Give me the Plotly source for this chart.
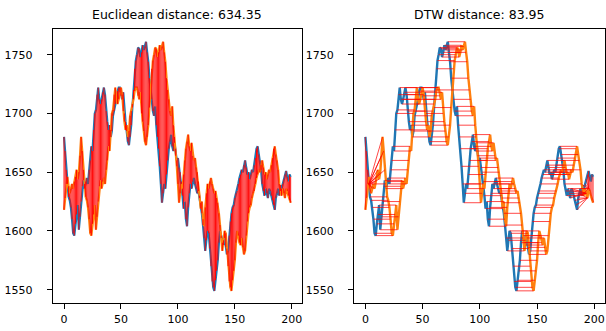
import numpy as np
import plotly.graph_objects as go

series_a = [1680, 1668, 1652, 1640, 1629, 1626, 1620, 1610, 1598, 1596,
            1606, 1614, 1622, 1601, 1612, 1625, 1638, 1643, 1636, 1642,
            1645, 1640, 1652, 1660, 1672, 1668, 1686, 1700, 1703, 1716,
            1722, 1712, 1708, 1712, 1718, 1722, 1716, 1702, 1693, 1686,
            1690, 1680, 1685, 1698, 1702, 1708, 1712, 1719, 1722, 1722,
            1715, 1712, 1718, 1700, 1693, 1685, 1676, 1673, 1680, 1690,
            1705, 1720, 1738, 1745, 1750, 1756, 1755, 1748, 1752, 1758,
            1754, 1757, 1761, 1752, 1744, 1730, 1720, 1712, 1702, 1698,
            1706, 1690, 1680, 1670, 1655, 1640, 1624, 1632, 1640, 1636,
            1648, 1660, 1670, 1676, 1682, 1672, 1668, 1675, 1664, 1660,
            1662, 1654, 1650, 1642, 1630, 1619, 1625, 1610, 1604, 1620,
            1632, 1640, 1636, 1642, 1645, 1640, 1636, 1632, 1634, 1628,
            1624, 1615, 1605, 1594, 1583, 1592, 1600, 1598, 1585, 1570,
            1557, 1552, 1549, 1558, 1566, 1575, 1590, 1600, 1596, 1590,
            1588, 1594, 1586, 1580, 1583, 1596, 1608, 1615, 1620, 1622,
            1628, 1632, 1634, 1640, 1645, 1648, 1652, 1650, 1656, 1660,
            1654, 1648, 1650, 1644, 1648, 1652, 1650, 1656, 1662, 1670,
            1672, 1665, 1660, 1652, 1640, 1634, 1630, 1636, 1632, 1628,
            1636, 1634, 1630, 1626, 1622, 1618, 1628, 1632, 1636, 1630,
            1639, 1636, 1640, 1644, 1648, 1651, 1646, 1642, 1648, 1646]

series_b = [1618, 1628, 1640, 1646, 1638, 1632, 1636, 1640, 1636, 1642,
            1646, 1652, 1644, 1650, 1664, 1680, 1668, 1652, 1640, 1629,
            1626, 1620, 1610, 1598, 1596, 1606, 1614, 1622, 1601, 1612,
            1625, 1638, 1643, 1636, 1642, 1645, 1640, 1652, 1660, 1672,
            1668, 1686, 1700, 1703, 1716, 1722, 1712, 1708, 1712, 1718,
            1722, 1716, 1702, 1693, 1686, 1690, 1680, 1685, 1698, 1702,
            1708, 1712, 1719, 1722, 1722, 1715, 1712, 1718, 1700, 1693,
            1685, 1676, 1673, 1680, 1690, 1705, 1720, 1738, 1745, 1750,
            1756, 1755, 1748, 1752, 1758, 1754, 1757, 1761, 1752, 1744,
            1730, 1720, 1712, 1702, 1698, 1706, 1690, 1680, 1670, 1655,
            1640, 1624, 1632, 1640, 1636, 1648, 1660, 1670, 1676, 1682,
            1672, 1668, 1675, 1664, 1660, 1662, 1654, 1650, 1642, 1630,
            1619, 1625, 1610, 1604, 1620, 1632, 1640, 1636, 1642, 1645,
            1640, 1636, 1632, 1634, 1628, 1624, 1615, 1605, 1594, 1583,
            1592, 1600, 1598, 1585, 1570, 1557, 1552, 1549, 1558, 1566,
            1575, 1590, 1600, 1596, 1590, 1588, 1594, 1586, 1580, 1583,
            1596, 1608, 1615, 1620, 1622, 1628, 1632, 1634, 1640, 1645,
            1648, 1652, 1650, 1656, 1660, 1654, 1648, 1650, 1644, 1648,
            1652, 1650, 1656, 1662, 1670, 1672, 1665, 1660, 1652, 1640,
            1634, 1630, 1636, 1632, 1628, 1636, 1634, 1630, 1626, 1624]

x_ticks = [0, 50, 100, 150, 200]
y_ticks = [1550, 1600, 1650, 1700, 1750]
title_left = "Euclidean distance: 634.35"
title_right = "DTW distance: 83.95"

a = np.array(series_a, dtype=float)
b = np.array(series_b, dtype=float)
n, m = len(a), len(b)
idx_a = np.arange(n)
idx_b = np.arange(m)

# DTW path
cost = np.abs(a[:, None] - b[None, :])
D = np.full((n + 1, m + 1), np.inf)
D[0, 0] = 0.0
for i in range(1, n + 1):
    for j in range(1, m + 1):
        D[i, j] = cost[i - 1, j - 1] + min(D[i - 1, j], D[i, j - 1], D[i - 1, j - 1])
i, j = n, m
path = []
while i > 0 and j > 0:
    path.append((i - 1, j - 1))
    k = int(np.argmin([D[i - 1, j - 1], D[i - 1, j], D[i, j - 1]]))
    if k == 0:
        i, j = i - 1, j - 1
    elif k == 1:
        i -= 1
    else:
        j -= 1
path.reverse()

blue = "#1f77b4"
orange = "#ff7f0e"

fig = go.Figure()

# Left: Euclidean
fig.add_trace(go.Scatter(x=idx_a, y=a, mode="lines", line=dict(color=blue, width=2.2),
                         xaxis="x", yaxis="y", hoverinfo="skip"))
fig.add_trace(go.Scatter(x=idx_b, y=b, mode="lines", line=dict(color=orange, width=2.2),
                         xaxis="x", yaxis="y", hoverinfo="skip"))
ex, ey = [], []
for k in range(n):
    ex += [idx_a[k], idx_b[k], None]
    ey += [a[k], b[k], None]
fig.add_trace(go.Scatter(x=ex, y=ey, mode="lines", line=dict(color="rgba(255,0,0,0.95)", width=1.0),
                         xaxis="x", yaxis="y", hoverinfo="skip"))

# Right: DTW
fig.add_trace(go.Scatter(x=idx_a, y=a, mode="lines", line=dict(color=blue, width=2.4),
                         xaxis="x2", yaxis="y2", hoverinfo="skip"))
fig.add_trace(go.Scatter(x=idx_b, y=b, mode="lines", line=dict(color=orange, width=2.4),
                         xaxis="x2", yaxis="y2", hoverinfo="skip"))
dx, dy = [], []
for (p, q) in path:
    dx += [idx_a[p], idx_b[q], None]
    dy += [a[p], b[q], None]
fig.add_trace(go.Scatter(x=dx, y=dy, mode="lines", line=dict(color="rgba(255,0,0,0.8)", width=0.9),
                         xaxis="x2", yaxis="y2", hoverinfo="skip"))

xmin, xmax = 0, max(n, m) - 1
xpad = (xmax - xmin) * 0.05
ymin, ymax = min(a.min(), b.min()), max(a.max(), b.max())
ypad = (ymax - ymin) * 0.05

font = dict(family="DejaVu Sans", size=11, color="#000000")
axis_common = dict(showgrid=False, zeroline=False, showline=True, mirror=True,
                   linecolor="black", linewidth=1, ticks="outside", ticklen=5,
                   tickcolor="black", tickwidth=1, tickfont=font, automargin=False)

fig.update_layout(
    width=606, height=331,
    margin=dict(l=0, r=0, t=0, b=0, pad=0, autoexpand=False),
    paper_bgcolor="white", plot_bgcolor="white",
    showlegend=False,
    xaxis=dict(domain=[52.7 / 606, 302 / 606], range=[xmin - xpad, xmax + xpad],
               tickvals=x_ticks, anchor="y", **axis_common),
    yaxis=dict(domain=[1 - 303.3 / 331, 1 - 29.3 / 331], range=[ymin - ypad, ymax + ypad],
               tickvals=y_ticks, anchor="x", ticklabelstandoff=12, **axis_common),
    xaxis2=dict(domain=[354 / 606, 604.5 / 606], range=[xmin - xpad, xmax + xpad],
                tickvals=x_ticks, anchor="y2", **axis_common),
    yaxis2=dict(domain=[1 - 303.3 / 331, 1 - 29.3 / 331], range=[ymin - ypad, ymax + ypad],
                tickvals=y_ticks, anchor="x2", ticklabelstandoff=12, **axis_common),
    annotations=[
        dict(text=title_left, x=(52.7 + 302) / 2 / 606, y=1 - 15 / 331, xref="paper", yref="paper",
             showarrow=False, xanchor="center", yanchor="middle",
             font=dict(family="DejaVu Sans", size=12.5, color="#000000")),
        dict(text=title_right, x=(354 + 604.5) / 2 / 606, y=1 - 15 / 331, xref="paper", yref="paper",
             showarrow=False, xanchor="center", yanchor="middle",
             font=dict(family="DejaVu Sans", size=12.5, color="#000000")),
    ],
)

fig.write_html("out.html", config={"displayModeBar": False},
               post_script="document.body.style.margin='0px';document.body.style.overflow='hidden';")
